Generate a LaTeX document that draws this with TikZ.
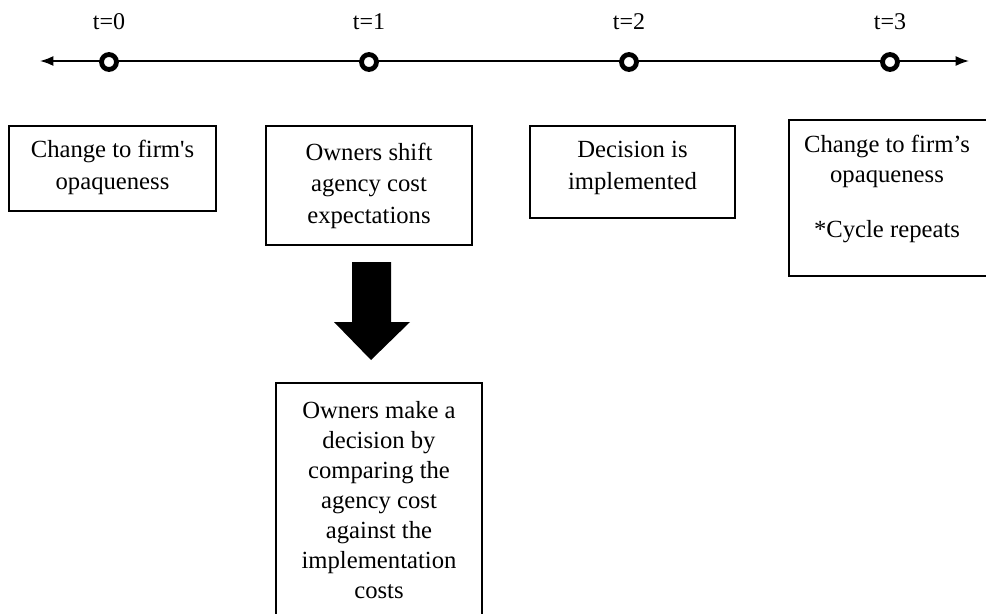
\documentclass[tikz,border=0pt]{standalone}
\usepackage{fontspec}
\setmainfont{Liberation Serif}
\usetikzlibrary{arrows.meta}
\begin{document}
\begin{tikzpicture}[x=0.75pt,y=-0.75pt,
  box/.style={draw=black, line width=1.2pt, inner sep=0pt},
  btext/.style={align=center, inner sep=0pt, font=\fontsize{18.5pt}{23.6pt}\selectfont},
  tick/.style={circle, draw=black, fill=white, line width=3.6pt, minimum size=11.2pt, inner sep=0pt},
  tlabel/.style={font=\fontsize{18pt}{20pt}\selectfont, inner sep=0pt, anchor=base}]
\useasboundingbox (0,0) rectangle (986,614);
\clip (0,0) rectangle (986,614);
% timeline
\coordinate (L) at (40,61);
\coordinate (R) at (969,61);
\draw[line width=1.2pt, {Latex[length=10pt,width=7.5pt]}-{Latex[length=10pt,width=7.5pt]}] (L) -- (R);
\foreach \i/\x in {0/109,1/369,2/629,3/890}{
  \node[tick] (c\i) at (\x,62) {};
  \node[tlabel] (t\i) at (\x,30) {t=\i};
}
% boxes
\node[box, minimum width=207*0.75pt, minimum height=85*0.75pt] (b1) at (112.5,168.5) {};
\node[btext] (b1t) at (112.5,167.3) {Change to firm\textquotesingle s\\opaqueness};
\node[box, minimum width=206*0.75pt, minimum height=119*0.75pt] (b2) at (369,185.5) {};
\node[btext] (b2t) at (369,185.8) {Owners shift\\agency cost\\expectations};
\node[box, minimum width=205*0.75pt, minimum height=92*0.75pt] (b3) at (632.5,172) {};
\node[btext] (b3t) at (632.5,167.8) {Decision is\\implemented};
\node[box, minimum width=201*0.75pt, minimum height=156*0.75pt] (b4) at (889.5,198) {};
\node[btext, font=\fontsize{18.5pt}{22.5pt}\selectfont] (b4t) at (887,188.8)
  {Change to firm’s\\opaqueness\\[18.75pt]*Cycle repeats};
\node[box, minimum width=206*0.75pt, minimum height=250*0.75pt] (b5) at (379,508) {};
\node[btext, font=\fontsize{18.5pt}{22.5pt}\selectfont] (b5t) at (379,500.1)
  {Owners make a\\decision by\\comparing the\\agency cost\\against the\\implementation\\costs};
% big arrow
\fill[black] (352,262) -- (391,262) -- (391,322) -- (410,322) -- (371,360) -- (334,322) -- (352,322) -- cycle;
\end{tikzpicture}
\end{document}
